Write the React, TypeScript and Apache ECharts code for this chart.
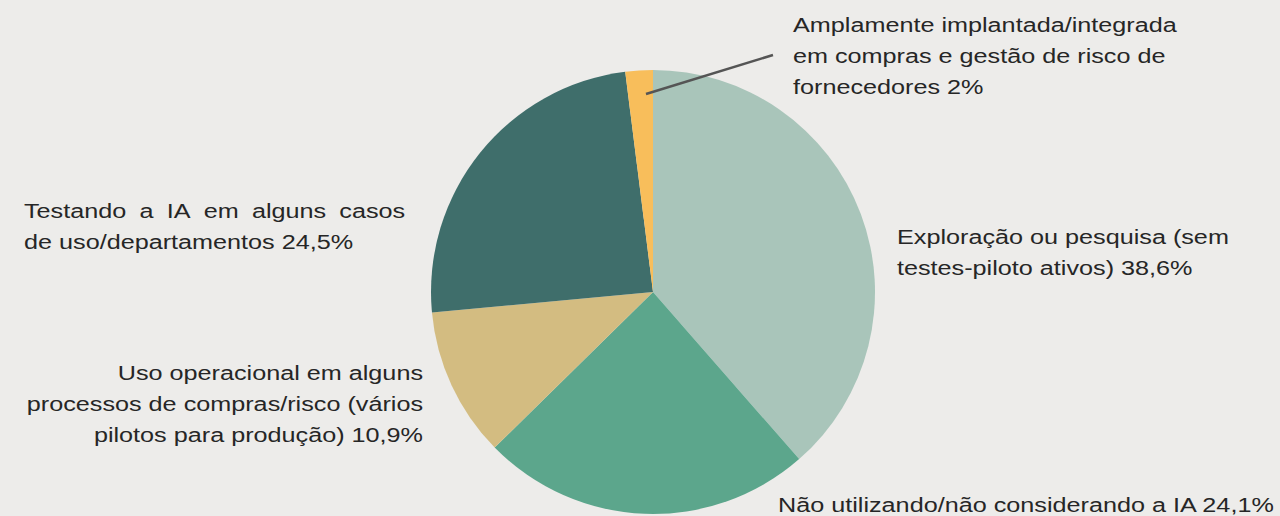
import React, { useEffect, useRef } from "react";
import * as echarts from "echarts";

const categories = [
  "Exploração ou pesquisa (sem\ntestes-piloto ativos)",
  "Não utilizando/não considerando a IA",
  "Uso operacional em alguns\nprocessos de compras/risco (vários\npilotos para produção)",
  "Testando a IA em alguns casos\nde uso/departamentos",
  "Amplamente implantada/integrada\nem compras e gestão de risco de\nfornecedores",
];
const values = [38.6, 24.1, 10.9, 24.5, 2];
const valueLabels = ["38,6%", "24,1%", "10,9%", "24,5%", "2%"];
const colors = ["#A9C5BA", "#5CA68C", "#D3BC81", "#3F6E6B", "#F8BE5B"];

const labelPos = [
  { x: 897, y: 221, align: "left", justify: false },
  { x: 778, y: 489, align: "left", justify: false },
  { x: 423, y: 357, align: "right", justify: false },
  { x: 24, y: 195, align: "left", justify: true },
  { x: 793, y: 9, align: "left", justify: false },
];

const FONT = "'Liberation Sans', Arial, Helvetica, sans-serif";

// justify first line by widening the gaps between words
function justifyFirstLine(text: string) {
  const lines = text.split("\n");
  lines[0] = lines[0].split(" ").join("{g| }");
  return lines.join("\n");
}

export default function App() {
  const ref = useRef<HTMLDivElement>(null);
  useEffect(() => {
    document.body.style.margin = "0";
    const chart = echarts.init(ref.current!, null, { renderer: "svg" });
    const labels = categories.map((name, i) => {
      const full = name + " " + valueLabels[i];
      const lp = labelPos[i];
      return {
        type: "text",
        x: lp.x,
        y: lp.y,
        scaleX: 1.2,
        z: 10,
        style: {
          text: lp.justify ? justifyFirstLine(full) : full,
          fontFamily: FONT,
          fontSize: 21,
          lineHeight: 31,
          fill: "#262626",
          align: lp.align,
          textAlign: lp.align,
          verticalAlign: "top",
          textVerticalAlign: "top",
          rich: lp.justify
            ? {
                g: {
                  width: 11,
                  fontFamily: FONT,
                  fontSize: 21,
                  lineHeight: 31,
                  fill: "#262626",
                },
              }
            : undefined,
        },
      };
    });
    chart.setOption({
      animation: false,
      backgroundColor: "#EDECEA",
      series: [
        {
          type: "pie",
          center: [653, 292],
          radius: [0, 222],
          startAngle: 90,
          clockwise: true,
          data: categories.map((name, i) => ({
            name,
            value: values[i],
            itemStyle: { color: colors[i] },
          })),
          label: { show: false },
          labelLine: { show: false },
          emphasis: { disabled: true },
        },
      ],
      graphic: [
        ...labels,
        {
          type: "line",
          z: 10,
          shape: { x1: 646, y1: 94, x2: 773, y2: 55 },
          style: { stroke: "#555555", lineWidth: 2.5 },
        },
      ],
    });
    return () => chart.dispose();
  }, []);
  return <div ref={ref} style={{ width: 1280, height: 516 }} />;
}
